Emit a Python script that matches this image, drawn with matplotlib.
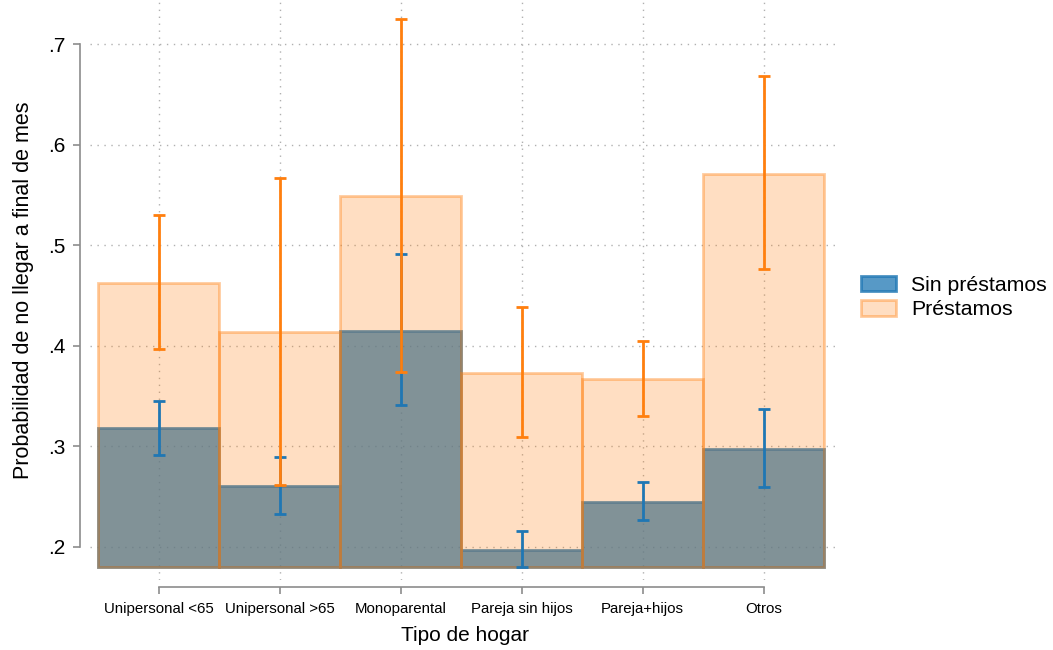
import matplotlib.pyplot as plt
import numpy as np
from matplotlib.colors import to_rgb

plt.rcParams['font.family'] = ['Liberation Sans', 'DejaVu Sans']

hogares = ["Unipersonal <65", "Unipersonal >65", "Monoparental", "Pareja sin hijos", "Pareja+hijos", "Otros"]

# media y extremos del intervalo de confianza
sin_prest = [0.318, 0.261, 0.415, 0.197, 0.245, 0.297]
sin_lo = [0.291, 0.233, 0.341, 0.180, 0.227, 0.260]
sin_hi = [0.345, 0.289, 0.491, 0.216, 0.264, 0.337]

prest = [0.462, 0.414, 0.549, 0.373, 0.367, 0.571]
prest_lo = [0.397, 0.262, 0.374, 0.309, 0.330, 0.476]
prest_hi = [0.530, 0.567, 0.725, 0.439, 0.405, 0.668]

yticks = [0.2, 0.3, 0.4, 0.5, 0.6, 0.7]
ytick_labels = ['.2', '.3', '.4', '.5', '.6', '.7']
base = 0.18

blue = '#1f77b4'
orange = '#ff7f0e'

fig = plt.figure(figsize=(10.53, 6.5), dpi=100)
ax = fig.add_axes([90/1053, 70/650, 750/1053, 580/650])

x = np.arange(len(hogares))
h1 = np.array(sin_prest) - base
h2 = np.array(prest) - base

ax.bar(x, h1, width=1.0, bottom=base, color=(*to_rgb(blue), 0.75),
       edgecolor=(*to_rgb(blue), 0.8), linewidth=2, label="Sin préstamos", zorder=2)
ax.bar(x, h2, width=1.0, bottom=base, color=(*to_rgb(orange), 0.25),
       edgecolor=(*to_rgb(orange), 0.4), linewidth=2, label="Préstamos", zorder=3)

m1 = np.array(sin_prest)
ax.errorbar(x, m1, yerr=[m1 - np.array(sin_lo), np.array(sin_hi) - m1], fmt='none',
            ecolor=blue, elinewidth=2, capsize=4.3, capthick=2, zorder=4)
m2 = np.array(prest)
ax.errorbar(x, m2, yerr=[m2 - np.array(prest_lo), np.array(prest_hi) - m2], fmt='none',
            ecolor=orange, elinewidth=2, capsize=4.3, capthick=2, zorder=5)

ax.set_xlim(-0.566, 5.63)
ax.set_ylim(0.167, 0.744)

ax.set_yticks(yticks, ytick_labels)
ax.set_xticks(x, hogares)

ax.grid(True, linestyle=(0, (1, 4)), color='#b0b0b0', linewidth=1, zorder=0)
ax.set_axisbelow(True)

for s in ['top', 'right']:
    ax.spines[s].set_visible(False)
ax.spines['left'].set_position(('outward', 7))
ax.spines['left'].set_bounds(0.2, 0.7)
ax.spines['bottom'].set_position(('outward', 5))
ax.spines['bottom'].set_bounds(0, 5)
for s in ['left', 'bottom']:
    ax.spines[s].set_color('#8c8c8c')
    ax.spines[s].set_linewidth(1.2)
ax.tick_params(axis='both', colors='#8c8c8c', length=5, width=1.2, labelcolor='black')
ax.tick_params(axis='y', pad=6, labelsize=15)
ax.tick_params(axis='x', pad=6, labelsize=10.8)

ax.set_ylabel("Probabilidad de no llegar a final de mes", fontsize=15.5, labelpad=10)
ax.set_xlabel("Tipo de hogar", fontsize=15, labelpad=7)

leg = ax.legend(loc='center left', bbox_to_anchor=(1.003, 0.487), frameon=False, fontsize=15.3,
                handlelength=1.65, handleheight=0.75, labelspacing=0.25, handletextpad=0.7)

fig.savefig('out.png', dpi=100)
